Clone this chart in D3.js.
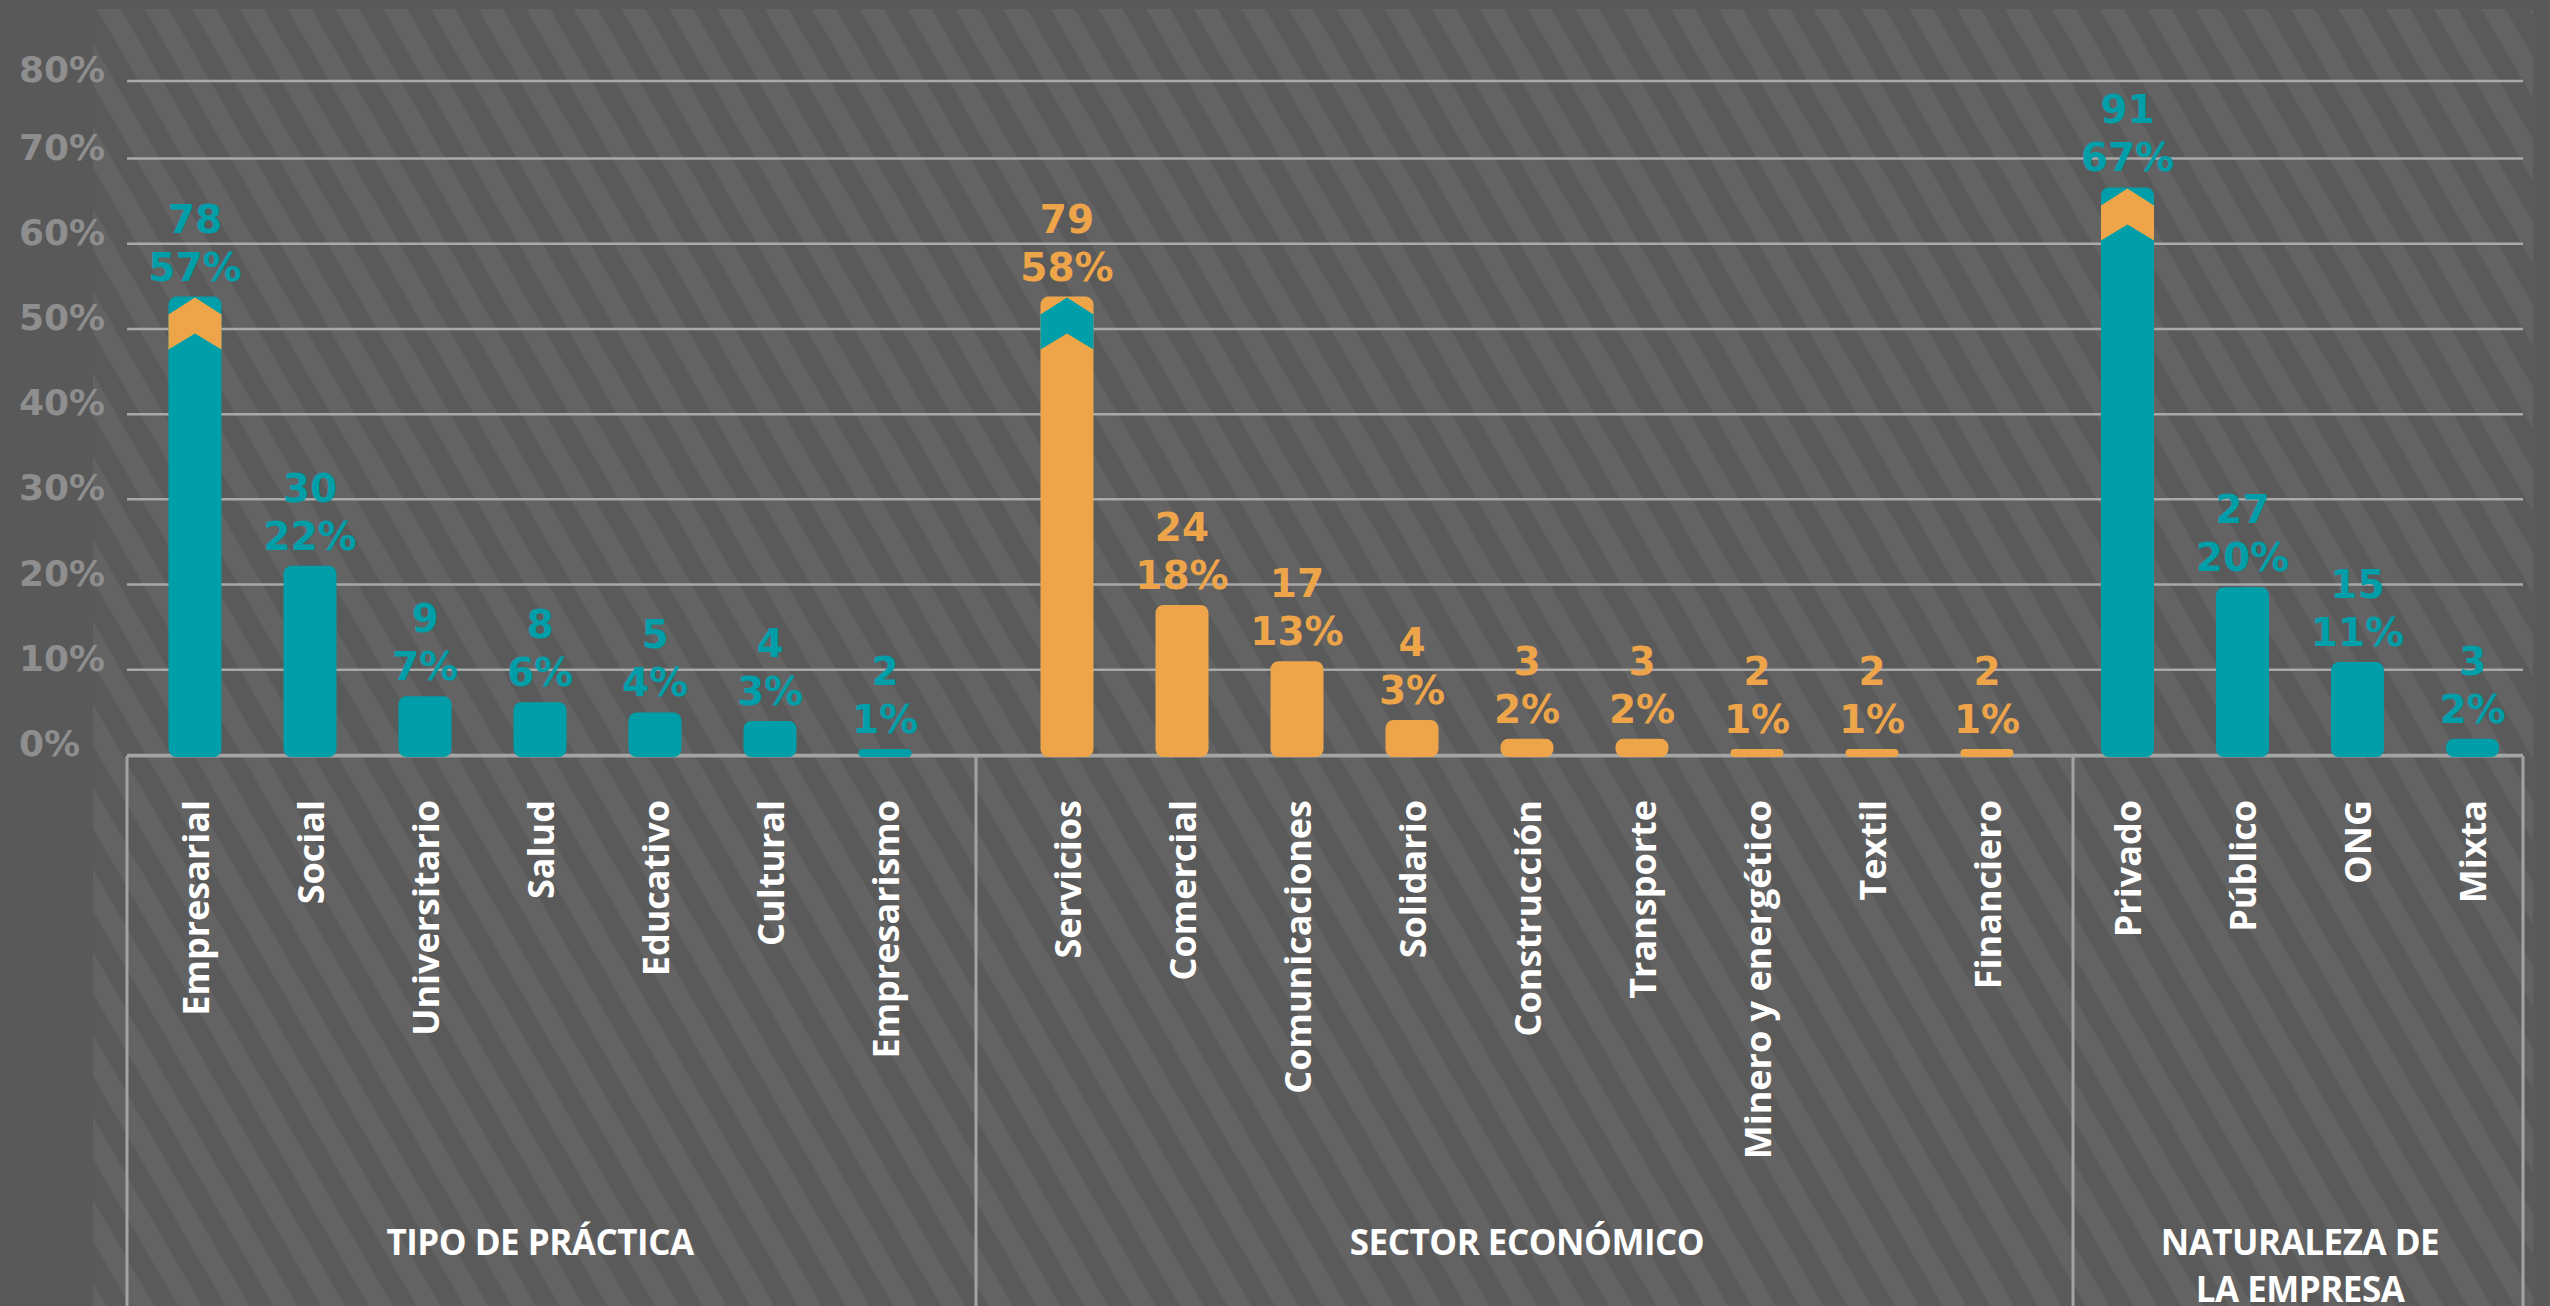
<!DOCTYPE html>
<html><head><meta charset="utf-8">
<script src="https://cdn.jsdelivr.net/npm/d3@7"></script>
<style>html,body{margin:0;padding:0;background:#595959;overflow:hidden}</style>
</head><body><svg id="chart" width="2550" height="1306"></svg>
<script>
// ---------- DATA ----------
const groupTitles = [["TIPO DE PRÁCTICA"], ["SECTOR ECONÓMICO"], ["NATURALEZA DE", "LA EMPRESA"]];

const catsTipo = ["Empresarial", "Social", "Universitario", "Salud", "Educativo", "Cultural", "Empresarismo"];
const countsTipo = [78, 30, 9, 8, 5, 4, 2];
const pctTipo = [57, 22, 7, 6, 4, 3, 1];
const barTipo = [53.8, 22.2, 6.9, 6.2, 5.0, 4.0, 0.7];     // bar length as drawn (%)

const catsSector = ["Servicios", "Comercial", "Comunicaciones", "Solidario", "Construcción", "Transporte", "Minero y energético", "Textil", "Financiero"];
const countsSector = [79, 24, 17, 4, 3, 3, 2, 2, 2];
const pctSector = [58, 18, 13, 3, 2, 2, 1, 1, 1];
const barSector = [53.8, 17.6, 11.0, 4.1, 1.9, 1.9, 0.7, 0.7, 0.7];

const catsNaturaleza = ["Privado", "Público", "ONG", "Mixta"];
const countsNaturaleza = [91, 27, 15, 3];
const pctNaturaleza = [67, 20, 11, 2];
const barNaturaleza = [66.6, 19.7, 10.9, 1.9];

const brokenBars = ["Empresarial", "Servicios", "Privado"];   // bars with the break chevron
const yTicks = [0, 10, 20, 30, 40, 50, 60, 70, 80];

// ---------- STYLE / LAYOUT ----------
const W = 2550, H = 1306;
const TEAL = "#009ea9", ORANGE = "#eea54a";
const groupColors = [TEAL, ORANGE, TEAL];
const altColors = [ORANGE, TEAL, ORANGE];
const groupCenters = [540, 1527, 2300];
const groupEdges = [127, 976, 2073, 2523];
const step = 115, barW = 53;
const plotLeft = 127, plotRight = 2523;

const groups = [
  {cats: catsTipo, counts: countsTipo, pct: pctTipo, bar: barTipo},
  {cats: catsSector, counts: countsSector, pct: pctSector, bar: barSector},
  {cats: catsNaturaleza, counts: countsNaturaleza, pct: pctNaturaleza, bar: barNaturaleza}
];

const svg = d3.select("#chart");

// background stripes
const defs = svg.append("defs");
const P = 41.3;
const pat = defs.append("pattern").attr("id", "stripes")
  .attr("patternUnits", "userSpaceOnUse").attr("width", P).attr("height", 100)
  .attr("patternTransform", "translate(97,9) rotate(-30)");
pat.append("rect").attr("width", P).attr("height", 100).attr("fill", "#5a5a5a");
pat.append("rect").attr("width", P / 2).attr("height", 100).attr("fill", "#636363");

svg.append("rect").attr("width", W).attr("height", H).attr("fill", "#595959");
svg.append("rect").attr("x", 93).attr("y", 9).attr("width", 2533 - 93).attr("height", H - 9).attr("fill", "url(#stripes)");

// y scale (axis gap above 70%)
const y = d3.scaleLinear().domain([0, 70, 80]).range([755, 158.5, 81]);

// gridlines
svg.append("g").selectAll("line").data(yTicks).join("line")
  .attr("x1", plotLeft).attr("x2", plotRight)
  .attr("y1", d => y(d)).attr("y2", d => y(d))
  .attr("stroke", "#a9a9a9").attr("stroke-width", 2.5);

// y labels
svg.append("g").selectAll("text").data(yTicks).join("text")
  .attr("x", 19).attr("y", d => y(d) + 1)
  .attr("font-family", "DejaVu Sans").attr("font-weight", "bold").attr("font-size", 36)
  .attr("fill", "#8e8e8e")
  .text(d => d + "%");

// category box lines
const boxG = svg.append("g").attr("stroke", "#a3a3a3").attr("stroke-width", 3);
boxG.append("line").attr("x1", plotLeft).attr("x2", plotRight).attr("y1", y(0) + 1).attr("y2", y(0) + 1);
boxG.selectAll("line.sep").data(groupEdges).join("line").attr("class", "sep")
  .attr("x1", d => d).attr("x2", d => d).attr("y1", y(0) + 1).attr("y2", H);

groups.forEach((g, gi) => {
  const n = g.cats.length;
  const pad = 1 - barW / step;
  const x = d3.scaleBand().domain(g.cats)
    .range([groupCenters[gi] - n * step / 2, groupCenters[gi] + n * step / 2])
    .paddingInner(pad).paddingOuter(pad / 2);
  const rows = g.cats.map((c, i) => ({c, count: g.counts[i], pct: g.pct[i], v: g.bar[i]}));
  const gg = svg.append("g");

  gg.selectAll("rect").data(rows).join("rect")
    .attr("x", d => x(d.c)).attr("width", x.bandwidth())
    .attr("y", d => y(d.v)).attr("height", d => y(0) - y(d.v) + 2)
    .attr("rx", d => Math.min(8, (y(0) - y(d.v) + 2) / 2))
    .attr("fill", groupColors[gi]);

  // break chevrons
  gg.selectAll("path.brk").data(rows.filter(d => brokenBars.includes(d.c))).join("path")
    .attr("class", "brk")
    .attr("fill", altColors[gi])
    .attr("d", d => {
      const x0 = x(d.c), x1 = x0 + x.bandwidth(), cx = x0 + x.bandwidth() / 2, T = y(d.v);
      return `M${x0},${T + 18}L${cx},${T + 1}L${x1},${T + 18}L${x1},${T + 53}L${cx},${T + 37}L${x0},${T + 53}Z`;
    });

  // value labels
  const lab = gg.append("g").attr("font-family", "DejaVu Sans").attr("font-weight", "bold")
    .attr("font-size", 39).attr("fill", groupColors[gi]).attr("text-anchor", "middle");
  lab.selectAll("text.p").data(rows).join("text").attr("class", "p")
    .attr("x", d => x(d.c) + x.bandwidth() / 2).attr("y", d => y(d.v) - 16)
    .text(d => d.pct + "%");
  lab.selectAll("text.c").data(rows).join("text").attr("class", "c")
    .attr("x", d => x(d.c) + x.bandwidth() / 2).attr("y", d => y(d.v) - 64)
    .text(d => d.count);

  // category labels
  gg.append("g").selectAll("text").data(rows).join("text")
    .attr("transform", d => `translate(${x(d.c) + x.bandwidth() / 2},800) rotate(-90)`)
    .attr("text-anchor", "end").attr("dominant-baseline", "central")
    .attr("font-family", "Open Sans").attr("font-weight", "bold").attr("font-size", 36)
    .attr("fill", "#ffffff")
    .text(d => d.c);

  // group title
  const t = svg.append("text").attr("x", groupCenters[gi]).attr("y", 1255)
    .attr("text-anchor", "middle").attr("font-family", "Open Sans").attr("font-weight", "bold")
    .attr("font-size", 35).attr("letter-spacing", -0.5).attr("fill", "#ffffff");
  groupTitles[gi].forEach((line, li) => {
    t.append("tspan").attr("x", groupCenters[gi]).attr("dy", li === 0 ? 0 : 47).text(line);
  });
});
</script></body></html>
